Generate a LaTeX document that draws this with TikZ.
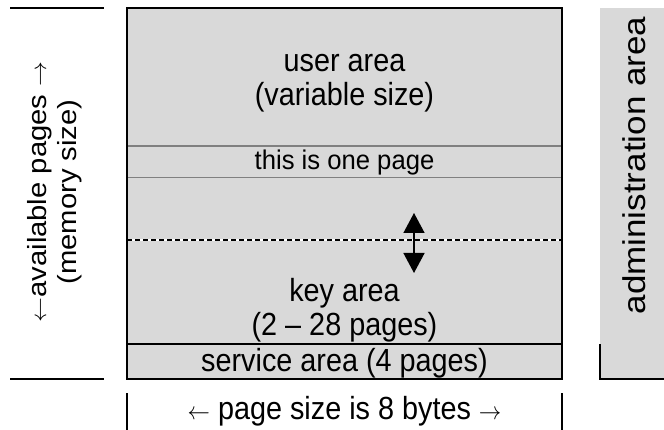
\documentclass[tikz,border=0pt]{standalone}
\usepackage{fontspec}
\setmainfont{Liberation Sans}
\usetikzlibrary{arrows.meta}
\definecolor{areafill}{HTML}{D9D9D9}
\definecolor{pageline}{HTML}{808080}
\begin{document}
\begin{tikzpicture}[x=1pt,y=-1pt,
  lbl/.style={anchor=base, inner sep=0pt, xscale=0.9, font=\fontsize{32}{36}\selectfont},
  smalllbl/.style={anchor=base, inner sep=0pt, xscale=0.95, font=\fontsize{27}{30}\selectfont},
  sidelbl/.style={anchor=base, inner sep=0pt, xscale=0.9, rotate=90, font=\fontsize{29.2}{34}\selectfont},
  adminlbl/.style={anchor=base, inner sep=0pt, xscale=0.9, rotate=90, font=\fontsize{35}{40}\selectfont},
  border/.style={line width=1.2pt, black},
  pagesep/.style={line width=1.8pt, pageline},
  dashbase/.style={line width=1.5pt, white},
  dashline/.style={line width=1.5pt, black, dash pattern=on 5pt off 3pt},
  movearrow/.style={line width=1.5pt, black, {Triangle[width=21pt,length=20pt]}-{Triangle[width=21pt,length=20pt]}}
]
\useasboundingbox (0,0) rectangle (664,430);
% corners
\coordinate (tl) at (127,8);
\coordinate (tr) at (562,8);
\coordinate (bl) at (127,379);
\coordinate (br) at (562,379);
% main area
\fill[areafill] (tl) rectangle (br);
\coordinate (p1l) at (127,145.7); \coordinate (p1r) at (562,145.7);
\coordinate (p2l) at (127,177.5); \coordinate (p2r) at (562,177.5);
\coordinate (dl) at (127,240); \coordinate (dr) at (562,240);
\coordinate (sl) at (127,344); \coordinate (sr) at (562,344);
\draw[pagesep] (p1l) -- (p1r);
\draw[pagesep] (p2l) -- (p2r);
\draw[dashbase] (dl) -- (dr);
\draw[dashline] (dl) -- (dr);
\draw[border] (sl) -- (sr);
\draw[border] (tl) rectangle (br);
% move arrow
\coordinate (atop) at (414,213);
\coordinate (abot) at (414,273);
\draw[movearrow] (atop) -- (abot);
% texts
\node[lbl] (user1) at (344.5,71.5) {user area};
\node[lbl] (user2) at (344.5,106) {(variable size)};
\node[smalllbl] (page) at (344.5,169.3) {this is one page};
\node[lbl] (key1) at (344.5,302) {key area};
\node[lbl] (key2) at (344.5,336) {(2 – 28 pages)};
\node[lbl] (serv) at (344.5,371.5) {service area (4 pages)};
\node[lbl] (psize) at (344.5,419) {$\leftarrow$ page size is 8 bytes $\rightarrow$};
% left side
\coordinate (lt1) at (10,8); \coordinate (lt2) at (104,8);
\coordinate (lb1) at (10,379); \coordinate (lb2) at (104,379);
\draw[border] (lt1) -- (lt2);
\draw[border] (lb1) -- (lb2);
\node[sidelbl] (avail) at (46,192) {$\leftarrow$available pages $\rightarrow$};
\node[sidelbl] (msize) at (76,192) {(memory size)};
% bottom ticks
\coordinate (bt1a) at (127,393); \coordinate (bt1b) at (127,430);
\coordinate (bt2a) at (562,393); \coordinate (bt2b) at (562,430);
\draw[border] (bt1a) -- (bt1b);
\draw[border] (bt2a) -- (bt2b);
% administration area
\fill[areafill] (600,8) rectangle (664,379);
\coordinate (am1) at (600,344); \coordinate (am2) at (600,379); \coordinate (am3) at (664,379);
\draw[border] (am1) -- (am2) -- (am3);
\node[adminlbl] (admin) at (645,165.5) {administration area};
\end{tikzpicture}
\end{document}
